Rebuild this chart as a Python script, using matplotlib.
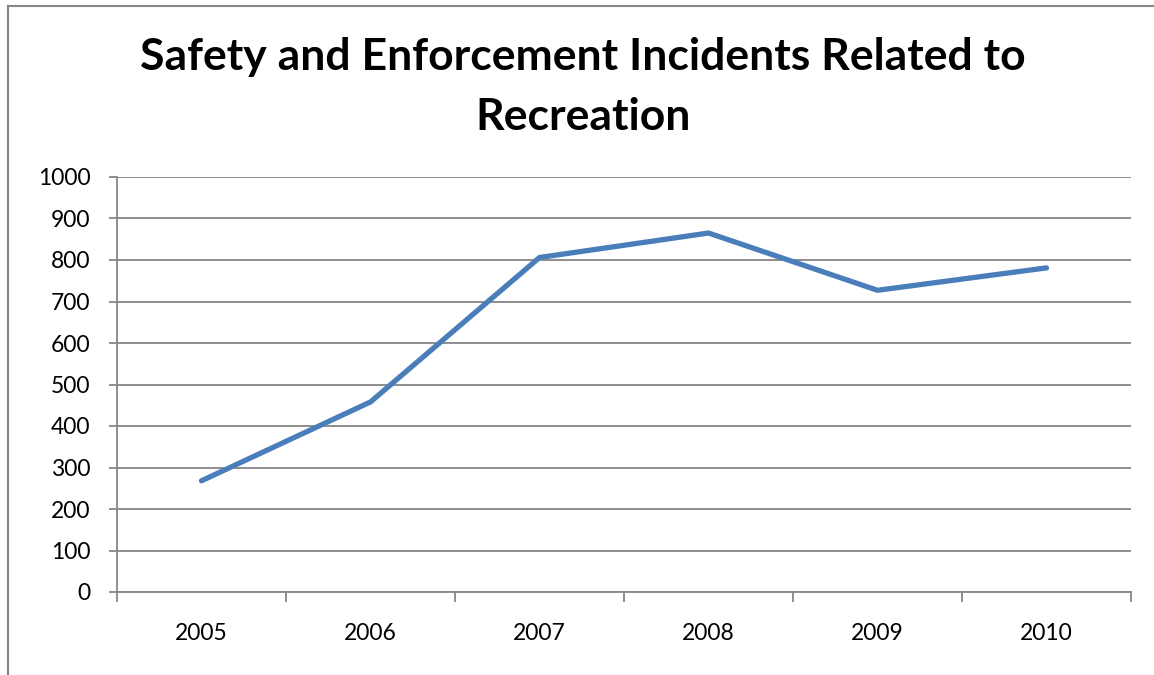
import matplotlib.pyplot as plt
from matplotlib.lines import Line2D

years = ['2005', '2006', '2007', '2008', '2009', '2010']
incidents = [268, 458, 806, 865, 727, 781]
yticks = [0, 100, 200, 300, 400, 500, 600, 700, 800, 900, 1000]

plt.rcParams['font.family'] = ['Lato', 'DejaVu Sans']

fig = plt.figure(figsize=(11.54, 6.75), dpi=100)
ax = fig.add_axes([117 / 1154, 1 - 592 / 675, 1014 / 1154, 415 / 675])

x = list(range(len(years)))
ax.plot(x, incidents, color='#4a7ebb', lw=3.8, solid_capstyle='round', zorder=3)

ax.set_xlim(-0.5, len(years) - 0.5)
ax.set_ylim(0, 1000)
ax.set_yticks(yticks)
ax.set_yticklabels([str(v) for v in yticks])
ax.yaxis.grid(True, color='#868686', lw=1.3)
ax.set_axisbelow(True)

# category labels centred, tick marks on the boundaries
ax.set_xticks([i - 0.5 for i in range(len(years) + 1)])
ax.set_xticklabels([])
ax.set_xticks(x, minor=True)
ax.set_xticklabels(years, minor=True)
ax.tick_params(axis='x', which='minor', length=0, pad=22, labelsize=16.5)
ax.tick_params(axis='x', which='major', length=7, color='#868686', width=1.3)
ax.tick_params(axis='y', length=6, color='#868686', width=1.3, labelsize=16.5, pad=13)

for s in ['top', 'right']:
    ax.spines[s].set_visible(False)
for s in ['left', 'bottom']:
    ax.spines[s].set_color('#868686')
    ax.spines[s].set_linewidth(1.3)

fig.text(583 / 1154, 1 - 87 / 675,
         'Safety and Enforcement Incidents Related to\nRecreation',
         ha='center', va='center', fontsize=32, fontweight='bold',
         linespacing=1.6)

# outer chart frame (cropped at right and bottom)
fig.add_artist(Line2D([8 / 1154, 8 / 1154], [0, 1 - 6 / 675],
                      transform=fig.transFigure, color='#868686', lw=1.5))
fig.add_artist(Line2D([8 / 1154, 1], [1 - 6 / 675, 1 - 6 / 675],
                      transform=fig.transFigure, color='#868686', lw=1.5))

fig.savefig('out.png', dpi=100)
